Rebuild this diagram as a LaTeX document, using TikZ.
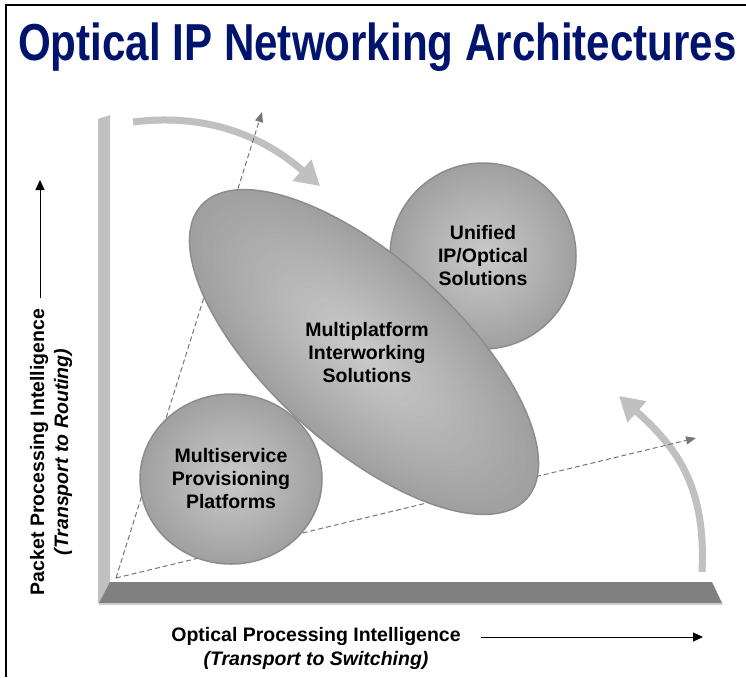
\documentclass[tikz,border=0pt]{standalone}
\usepackage{fontspec}
\setmainfont{Liberation Sans}
\usetikzlibrary{arrows.meta,shapes.geometric}

\definecolor{titleblue}{RGB}{0,20,110}
\definecolor{wallgrey}{RGB}{192,192,192}
\definecolor{lipgrey}{RGB}{205,205,205}
\definecolor{floorgrey}{RGB}{128,128,128}
\definecolor{sweepgrey}{RGB}{192,192,192}
\definecolor{raygrey}{RGB}{118,118,118}
\definecolor{blobedge}{RGB}{160,160,160}
\definecolor{blobcore}{RGB}{202,202,202}
\definecolor{blobline}{RGB}{140,140,140}

\tikzset{
  blob/.style={draw=blobline, line width=1.5pt, inner color=blobcore, outer color=blobedge, inner sep=0pt},
  bloblabel/.style={font=\fontsize{19.5}{23}\selectfont\bfseries, align=center, text=black},
  sweep/.style={draw=sweepgrey, line width=7pt, -{Triangle[length=24pt,width=27pt]}},
  ray/.style={draw=raygrey, line width=1pt, dash pattern=on 5pt off 3pt, -{Triangle[length=10pt,width=8pt]}},
  axisarrow/.style={draw=black, line width=1pt, -{Triangle[length=10pt,width=9pt]}},
  axislabel/.style={font=\fontsize{19.5}{24}\selectfont\bfseries, align=center, text=black},
}

\begin{document}
\begin{tikzpicture}[x=1pt,y=-1pt]
\useasboundingbox (0,0) rectangle (746,677);
\fill[white] (0,0) rectangle (746,677);
% frame edges
\draw[line width=1.5pt] (6,677) -- (6,5) -- (746,5);

% title
\node[anchor=base west, text=titleblue, inner sep=0pt,
      font=\fontsize{52}{60}\selectfont\bfseries] (title) at (18,60)
      {\scalebox{0.81}[1]{Optical IP Networking Architectures}};

% wall and floor
\fill[wallgrey] (98,119) -- (110,115) -- (110,603) -- (98,603) -- cycle;
\fill[floorgrey] (110,582) -- (712,582) -- (722,603) -- (99,603) -- cycle;
\fill[lipgrey] (99,603) -- (722,603) -- (722,605) -- (99,605) -- cycle;

% curved sweep arrows
\coordinate (s1) at (133,122);
\coordinate (e1) at (320,186);
\draw[sweep] (s1) .. controls (205,113) and (262,135) .. (e1);
\coordinate (s2) at (702,572);
\coordinate (e2) at (619,396);
\draw[sweep] (s2) .. controls (706,490) and (680,450) .. (e2);

% dashed perspective rays
\coordinate (o) at (116,578);
\coordinate (upray) at (262,112);
\coordinate (rightray) at (696,438);
\draw[ray] (o) -- (upray);
\draw[ray] (o) -- (rightray);

% unified solutions
\node[blob, circle, minimum size=186pt, bloblabel] (uni) at (483,256)
  {Unified\\IP/Optical\\Solutions};

% tilted interworking ellipse with stepped radial gradient
\begin{scope}[shift={(364,352)}, rotate=-42]
  \foreach \k in {0,...,29} {
    \pgfmathsetmacro\f{1-\k/30}
    \pgfmathsetmacro\p{\k*100/29}
    \fill[blobcore!\p!blobedge] (0,0) ellipse ({219*\f pt} and {94*\f pt});
  }
  \draw[blobline, line width=1.5pt] (0,0) ellipse (219pt and 94pt);
\end{scope}
\node[bloblabel] (mis) at (367,353) {Multiplatform\\Interworking\\Solutions};

% multiservice platforms
\node[blob, ellipse, minimum width=182pt, minimum height=170pt, bloblabel] (mpp) at (231,479)
  {Multiservice\\Provisioning\\Platforms};

% axis labels
\node[axislabel, rotate=90] (ylab) at (51,452)
  {Packet Processing Intelligence\\\textit{(Transport to Routing)}};
\coordinate (ya0) at (40,298);
\coordinate (ya1) at (40,180);
\draw[axisarrow] (ya0) -- (ya1);

\node[axislabel] (xlab) at (316,648)
  {Optical Processing Intelligence\\\textit{(Transport to Switching)}};
\coordinate (xa0) at (481,637);
\coordinate (xa1) at (703,637);
\draw[axisarrow] (xa0) -- (xa1);
\end{tikzpicture}
\end{document}
